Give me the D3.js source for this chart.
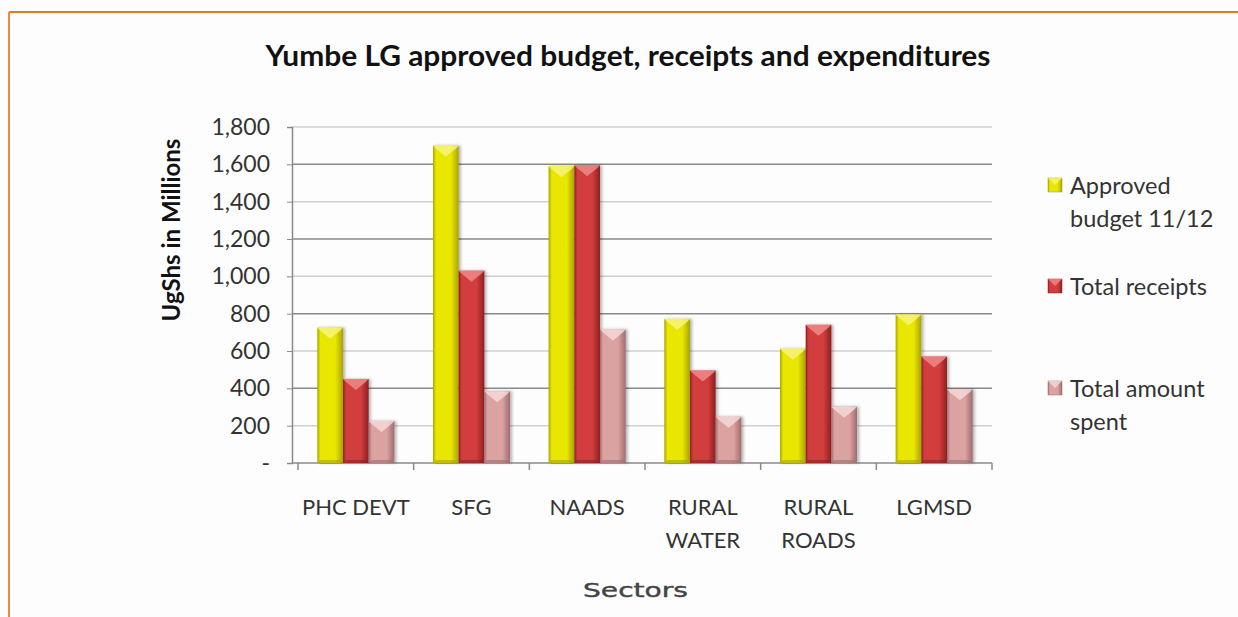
<!DOCTYPE html>
<html>
<head>
<meta charset="utf-8">
<script src="https://cdn.jsdelivr.net/npm/d3@7"></script>
<style>
  html, body { margin: 0; padding: 0; background: #fdfdfd; }
  svg { display: block; }
  text { font-family: Lato, "Open Sans", sans-serif; }
  text.axis-name { font-family: "DejaVu Sans", Verdana, sans-serif; }
</style>
</head>
<body>
<svg id="chart" width="1238" height="617"></svg>
<script>
// Sectors and budget figures (UgShs millions)
const sectors = ["PHC DEVT", "SFG", "NAADS", "RURAL WATER", "RURAL ROADS", "LGMSD"];
const seriesNames = ["Approved budget 11/12", "Total receipts", "Total amount spent"];
const approved = [725, 1700, 1590, 772, 612, 795];
const receipts = [450, 1030, 1595, 495, 740, 570];
const spent    = [225, 385, 715, 248, 302, 395];
const yTicks = [0, 200, 400, 600, 800, 1000, 1200, 1400, 1600, 1800];

const seriesValues = [approved, receipts, spent];
const palette = [
  { base: "#e9e600", dark: "#a9a400", light: "#f6f37a" },
  { base: "#d23c3c", dark: "#8e2020", light: "#ef8a8a" },
  { base: "#dba2a2", dark: "#a06c6c", light: "#f6d8d8" }
];

const svg = d3.select("#chart");
const W = 1238, H = 617;

// Frame lines
svg.append("rect").attr("x", 0).attr("y", 0).attr("width", W).attr("height", H).attr("fill", "#fdfdfd");
svg.append("line").attr("x1", 9).attr("x2", W).attr("y1", 12).attr("y2", 12)
  .attr("stroke", "#e8761e").attr("stroke-width", 2);
svg.append("line").attr("x1", 9).attr("x2", 9).attr("y1", 12).attr("y2", H)
  .attr("stroke", "#f08a3a").attr("stroke-width", 2);

const plot = { left: 298, right: 992, top: 127, bottom: 463 };

const x0 = d3.scaleBand().domain(sectors).range([plot.left, plot.right])
  .paddingInner(0.334).paddingOuter(0.167);
const x1 = d3.scaleBand().domain(d3.range(seriesNames.length)).range([0, x0.bandwidth()]);
const y = d3.scaleLinear().domain([0, 1800]).range([plot.bottom, plot.top]);

// Gradients for the bevelled bars
const defs = svg.append("defs");
palette.forEach((c, i) => {
  const g = defs.append("linearGradient").attr("id", "bar" + i)
    .attr("x1", "0").attr("x2", "1").attr("y1", "0").attr("y2", "0");
  g.append("stop").attr("offset", "0%").attr("stop-color", c.dark);
  g.append("stop").attr("offset", "12%").attr("stop-color", c.base);
  g.append("stop").attr("offset", "70%").attr("stop-color", c.base);
  g.append("stop").attr("offset", "100%").attr("stop-color", c.dark);
});
const shadow = defs.append("filter").attr("id", "shadow").attr("x", "-20%").attr("y", "-5%")
  .attr("width", "150%").attr("height", "110%");
shadow.append("feDropShadow").attr("dx", 2).attr("dy", 0).attr("stdDeviation", 1.5)
  .attr("flood-color", "#000").attr("flood-opacity", 0.3);

// Gridlines (alternating shade)
svg.append("g").selectAll("line").data(yTicks).join("line")
  .attr("x1", 292).attr("x2", plot.right)
  .attr("y1", d => y(d)).attr("y2", d => y(d))
  .attr("stroke", (d, i) => i % 2 === 0 ? "#8a8a8a" : "#cfcfcf")
  .attr("stroke-width", 1.5);

// Y axis
const yAxis = svg.append("g").attr("transform", `translate(292,0)`)
  .call(d3.axisLeft(y).tickValues(yTicks).tickSize(5).tickPadding(17)
    .tickFormat(d => d === 0 ? "-" : d3.format(",")(d)));
yAxis.select(".domain").attr("stroke", "#8a8a8a").attr("stroke-width", 1.5);
yAxis.selectAll(".tick line").attr("stroke", "#8a8a8a");
yAxis.selectAll(".tick text").attr("font-size", 23).attr("fill", "#333");

// X axis ticks at category boundaries
const boundaries = sectors.map(s => x0(s) - x0.step() * x0.paddingInner() / 2)
  .concat([plot.right]);
svg.append("g").selectAll("line").data(boundaries).join("line")
  .attr("x1", d => d).attr("x2", d => d)
  .attr("y1", plot.bottom).attr("y2", plot.bottom + 7)
  .attr("stroke", "#8a8a8a").attr("stroke-width", 1.5);

// Bars
const groups = svg.append("g").selectAll("g").data(sectors).join("g")
  .attr("transform", d => `translate(${x0(d)},0)`);

groups.each(function(sector, si) {
  const g = d3.select(this);
  seriesValues.forEach((vals, k) => {
    const v = vals[si];
    const bx = x1(k), bw = x1.bandwidth();
    const by = y(v), bh = y(0) - y(v);
    g.append("rect").attr("x", bx).attr("y", by).attr("width", bw).attr("height", bh)
      .attr("fill", `url(#bar${k})`).attr("filter", "url(#shadow)");
    // top bevel
    const bev = Math.min(7, bh / 2);
    g.append("path")
      .attr("d", `M${bx},${by} L${bx + bw},${by} L${bx + bw - 3},${by + 3} L${bx + bw / 2},${by + bev + 4} L${bx + 3},${by + 3} Z`)
      .attr("fill", palette[k].light).attr("opacity", 0.85);
    // bottom bevel
    g.append("path")
      .attr("d", `M${bx},${by + bh} L${bx + bw},${by + bh} L${bx + bw - 3},${by + bh - 3} L${bx + 3},${by + bh - 3} Z`)
      .attr("fill", palette[k].dark).attr("opacity", 0.6);
  });
});

// Category labels
const xl = svg.append("g").selectAll("text").data(sectors).join("text")
  .attr("x", d => x0(d) + x0.bandwidth() / 2)
  .attr("y", 515)
  .attr("text-anchor", "middle")
  .attr("font-size", 22).attr("fill", "#333");
xl.each(function(d) {
  const words = d.split(" ");
  const t = d3.select(this);
  if (d === "PHC DEVT") { t.text(d); return; }
  words.forEach((w, i) => t.append("tspan").attr("x", t.attr("x")).attr("dy", i === 0 ? 0 : 33).text(w));
});

// Titles
svg.append("text").attr("x", 628).attr("y", 66).attr("text-anchor", "middle")
  .attr("font-size", 29).attr("font-weight", "bold").attr("fill", "#111")
  .attr("textLength", 725).attr("lengthAdjust", "spacingAndGlyphs")
  .text("Yumbe LG approved budget, receipts and expenditures");

svg.append("text").attr("transform", "translate(180,230) rotate(-90)")
  .attr("text-anchor", "middle").attr("font-size", 24).attr("font-weight", "bold").attr("fill", "#111")
  .text("UgShs in Millions");

svg.append("text").attr("class", "axis-name").attr("x", 583).attr("y", 597)
  .attr("font-size", 19).attr("fill", "#444")
  .attr("stroke", "#444").attr("stroke-width", 0.4)
  .attr("textLength", 105).attr("lengthAdjust", "spacingAndGlyphs")
  .text("Sectors");

// Legend
const legendRows = [
  { lines: ["Approved", "budget 11/12"], y: 186 },
  { lines: ["Total receipts"], y: 287 },
  { lines: ["Total amount", "spent"], y: 389 }
];
const legend = svg.append("g");
legendRows.forEach((r, i) => {
  legend.append("rect").attr("x", 1048).attr("y", r.y - 8).attr("width", 14).attr("height", 14)
    .attr("fill", `url(#bar${i})`).attr("stroke", palette[i].dark).attr("stroke-width", 0.5);
  legend.append("path")
    .attr("d", `M1048,${r.y - 8} L1062,${r.y - 8} L1055,${r.y - 1} Z`)
    .attr("fill", palette[i].light).attr("opacity", 0.8);
  const t = legend.append("text").attr("x", 1070).attr("y", r.y + 8)
    .attr("font-size", 23.5).attr("fill", "#333");
  r.lines.forEach((l, j) => t.append("tspan").attr("x", 1070).attr("dy", j === 0 ? 0 : 33).text(l));
});
</script>
</body>
</html>
